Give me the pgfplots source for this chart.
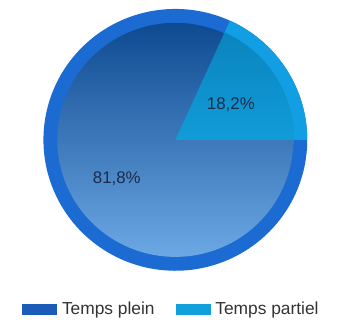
\documentclass[border=0pt]{standalone}
\usepackage{pgfplots}
\pgfplotsset{compat=1.18}
\usepackage{pgfplotstable}
\usepackage{fontspec}
\setmainfont{Liberation Sans}

\definecolor{ringBig}{HTML}{1C6BD2}
\definecolor{ringSmall}{HTML}{129EE2}
\definecolor{bigTop}{HTML}{0E4A90}
\definecolor{bigMid}{HTML}{1C66C6}
\definecolor{bigBot}{HTML}{6CA8E4}
\definecolor{smallTop}{HTML}{0A84BE}
\definecolor{smallBot}{HTML}{119CD8}
\definecolor{legA}{HTML}{1A5CB8}
\definecolor{legB}{HTML}{12A0DC}
\definecolor{lbl}{HTML}{1C2C4A}

\pgfplotstableread{
label value
plein 81.8
partiel 18.2
}\datatable

\begin{document}
\pgfplotstablegetelem{0}{value}\of\datatable \let\vPlein\pgfplotsretval
\pgfplotstablegetelem{1}{value}\of\datatable \let\vPartiel\pgfplotsretval
\pgfmathsetmacro{\aSplit}{3.6*\vPartiel}
\begin{tikzpicture}
\begin{axis}[hide axis, scale only axis, width=337pt, height=325pt,
  xmin=0, xmax=337, ymin=0, ymax=325, clip=false,
  legend style={at={(axis cs:170,13)}, anchor=center, draw=none, fill=none,
    font=\fontsize{17.5}{20}\selectfont, text=black!80,
    /tikz/every even column/.append style={column sep=20pt}},
  legend columns=2, legend cell align=left]
\path (axis cs:0,0) rectangle (axis cs:337,325);
% outer ring: full disc, then the small slice on top
\addplot[forget plot, draw=none, fill=ringBig, domain=0:360, samples=180]
  ({174+133*cos(x)},{184+132*sin(x)}) -- cycle;
\addplot[forget plot, draw=none, fill=ringSmall, domain=0:\aSplit, samples=60]
  ({174+133*cos(x)},{184+132*sin(x)}) -- (axis cs:174,184) -- cycle;
% inner gradient: full disc, then small wedge on top
\addplot[forget plot, draw=none, top color=bigTop, middle color=bigMid, bottom color=bigBot, domain=0:360, samples=180]
  ({174+119*cos(x)},{184+118*sin(x)}) -- cycle;
\addplot[forget plot, draw=none, top color=smallTop, bottom color=smallBot, domain=0:\aSplit, samples=60]
  ({174+120*cos(x)},{184+119*sin(x)}) -- (axis cs:174,184) -- cycle;
\node[text=lbl, font=\fontsize{17}{19}\selectfont] at (axis cs:230,219) {18,2\%};
\node[text=lbl, font=\fontsize{17}{19}\selectfont] at (axis cs:115,145) {81,8\%};
\addlegendimage{legend image code/.code={\fill[legA] (0pt,-5pt) rectangle (34pt,5pt); \path[draw=none,fill=none] (0pt,0pt) rectangle (38pt,0.1pt);}}
\addlegendentry{Temps plein}
\addlegendimage{legend image code/.code={\fill[legB] (0pt,-5pt) rectangle (34pt,5pt); \path[draw=none,fill=none] (0pt,0pt) rectangle (37pt,0.1pt);}}
\addlegendentry{Temps partiel}
\end{axis}
\end{tikzpicture}
\end{document}
